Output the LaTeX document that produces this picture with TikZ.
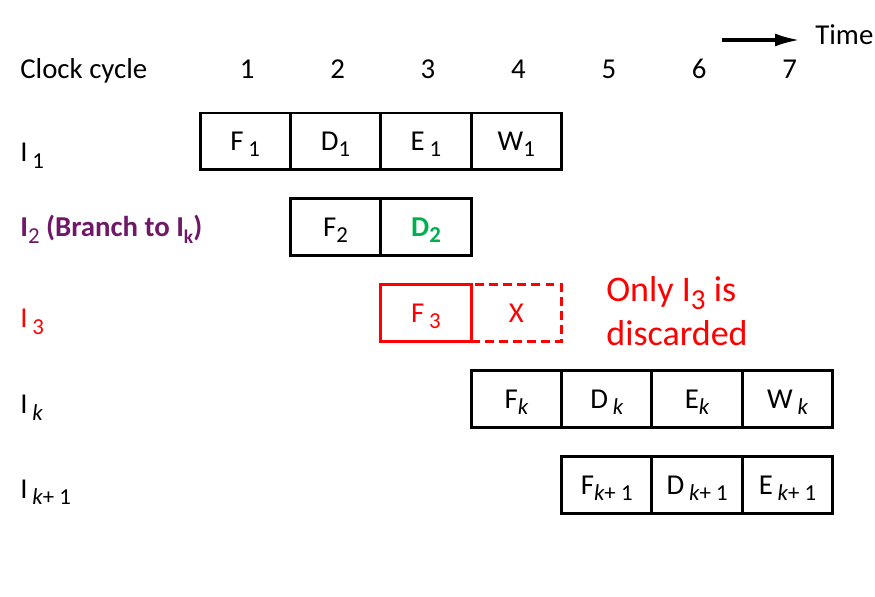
\documentclass[tikz,border=0pt]{standalone}
\usepackage{fontspec}
\setmainfont{Carlito}
\usepackage{xcolor}
\usepackage{tikz}
\usetikzlibrary{arrows.meta, positioning}

\definecolor{branchpurple}{RGB}{112,24,104}
\definecolor{takengreen}{RGB}{0,176,80}
\newcommand{\lowsub}[2][13]{\raisebox{-0.45ex}{\fontsize{#1}{#1}\selectfont #2}}

\begin{document}
\begin{tikzpicture}[
    x=0.02cm, y=-0.02cm,
    node distance=0pt,
    every node/.style={font=\fontsize{16.4}{19.7}\selectfont},
    cell/.style={rectangle, draw, line width=1.7pt, minimum width=1.808cm, minimum height=1.14cm, outer sep=0pt, inner sep=0pt, text height=10.5pt, text depth=0pt},
    lbl/.style={anchor=base west, inner sep=0pt},
    arrow/.style={-{Latex[length=5mm, width=2.6mm]}, line width=2pt}
]
\useasboundingbox (0,0) rectangle (875,597);

% Header
\node[lbl] (clock) at (20,79) {Clock cycle};
\foreach \n in {1,...,7}
    \node[anchor=base] (c\n) at ({200+90.4*(\n-0.5)+2},79) {\n};
\node[lbl] (time) at (815,45) {Time};
\coordinate (tstart) at (722,40);
\draw[arrow, shorten >=0.3cm] (tstart) -- (tstart -| time.west);

% Row labels
\node[lbl] (i1) at (20,162) {I\,\lowsub{1}};
\node[lbl, text=branchpurple] (i2) at (20,237) {\textbf{I}\lowsub{2} \textbf{(Branch to I\lowsub[11]{k})}};
\node[lbl, text=red] (i3) at (20,328) {I\,\lowsub{3}};
\node[lbl] (ik) at (20,414) {I\,\lowsub{\itshape k}};
\node[lbl] (ik1) at (20,498) {I\,\lowsub{\itshape k\upshape+ 1}};

% I1
\node[cell] (f1) at (245.2,141.5) {F\,\lowsub{1}};
\node[cell, right=of f1] (d1) {D\lowsub{1}};
\node[cell, right=of d1] (e1) {E\,\lowsub{1}};
\node[cell, right=of e1] (w1) {W\lowsub{1}};

% I2 (branch)
\node[cell, below=0.58cm of d1] (f2) {F\lowsub{2}};
\node[cell, right=of f2, text=takengreen] (d2) {\bfseries D\lowsub{2}};

% I3 (discarded)
\node[cell, red, below=0.58cm of d2] (f3) {F\,\lowsub{3}};
\node[cell, red, dash pattern=on 5pt off 3pt, right=of f3] (x3) {X};
\node[anchor=west, inner sep=0pt, align=left, text=red, font=\fontsize{20.5}{25}\selectfont] (note) at (606,311) {Only I\lowsub[16.5]{3} is\\discarded};

% Ik
\node[cell, below=0.58cm of x3] (fk) {F\lowsub{\itshape k}};
\node[cell, right=of fk] (dk) {D\,\lowsub{\itshape k}};
\node[cell, right=of dk] (ek) {E\lowsub{\itshape k}};
\node[cell, right=of ek] (wk) {W\,\lowsub{\itshape k}};

% Ik+1
\node[cell, below=0.58cm of dk] (fk1) {F\lowsub{\itshape k\upshape+ 1}};
\node[cell, right=of fk1] (dk1) {D\,\lowsub{\itshape k\upshape+ 1}};
\node[cell, right=of dk1] (ek1) {E\,\lowsub{\itshape k\upshape+ 1}};

\end{tikzpicture}
\end{document}
